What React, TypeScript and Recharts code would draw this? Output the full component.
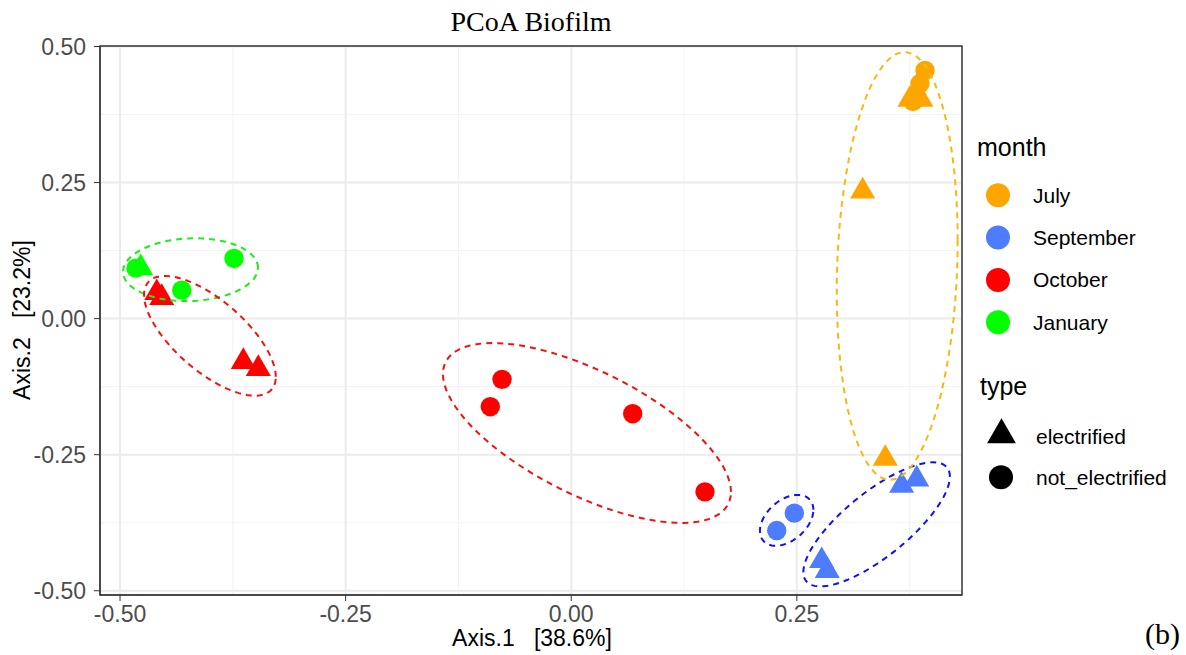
import React from 'react';
import { ScatterChart, Scatter, XAxis, YAxis, CartesianGrid, ReferenceArea } from 'recharts';

// PCoA coordinates (Axis.1, Axis.2)
const july = [
    { x: 0.392, y: 0.456, type: 'not_electrified' },
    { x: 0.3864, y: 0.432, type: 'not_electrified' },
    { x: 0.382, y: 0.41, type: 'not_electrified' },
    { x: 0.3787, y: 0.399, type: 'not_electrified' },
    { x: 0.3753, y: 0.4027, type: 'electrified' },
    { x: 0.3875, y: 0.4027, type: 'electrified' },
    { x: 0.3229, y: 0.234, type: 'electrified' },
    { x: 0.348, y: -0.2572, type: 'electrified' },
];

const september = [
    { x: 0.2277, y: -0.3894, type: 'not_electrified' },
    { x: 0.2472, y: -0.3574, type: 'not_electrified' },
    { x: 0.3661, y: -0.3068, type: 'electrified' },
    { x: 0.3828, y: -0.2952, type: 'electrified' },
    { x: 0.2775, y: -0.4451, type: 'electrified' },
    { x: 0.2837, y: -0.4633, type: 'electrified' },
];

const october = [
    { x: -0.0767, y: -0.1116, type: 'not_electrified' },
    { x: -0.0897, y: -0.1618, type: 'not_electrified' },
    { x: 0.0681, y: -0.1747, type: 'not_electrified' },
    { x: 0.1482, y: -0.3183, type: 'not_electrified' },
    { x: -0.4593, y: 0.0473, type: 'electrified' },
    { x: -0.4538, y: 0.0382, type: 'electrified' },
    { x: -0.3634, y: -0.0793, type: 'electrified' },
    { x: -0.3468, y: -0.0921, type: 'electrified' },
];

const january = [
    { x: -0.4823, y: 0.0927, type: 'not_electrified' },
    { x: -0.4316, y: 0.0523, type: 'not_electrified' },
    { x: -0.3737, y: 0.1105, type: 'not_electrified' },
    { x: -0.4771, y: 0.0932, type: 'electrified' },
];

// confidence ellipses: centre + two half-axis vectors (data units)
const ellipses = [
    { month: 'January', cx: -0.4219, cy: 0.0899, ax: 0.0748, ay: 0.0037, bx: 0, by: 0.0576 },
    { month: 'October', cx: -0.4004, cy: -0.0316, ax: 0.073, ay: -0.0752, bx: 0, by: 0.0804 },
    { month: 'October', cx: 0.0174, cy: -0.2101, ax: 0.1596, ay: -0.1083, bx: 0, by: 0.1248 },
    { month: 'September', cx: 0.2387, cy: -0.3706, ax: 0.0296, ay: 0.0193, bx: 0, by: 0.0426 },
    { month: 'September', cx: 0.3384, cy: -0.378, ax: 0.0812, ay: 0.0877, bx: 0, by: 0.073 },
    { month: 'July', cx: 0.3612, cy: 0.0967, ax: 0.067, ay: 0.0473, bx: 0, by: 0.3901 },
];

const months = ['July', 'September', 'October', 'January'];
const types = ['electrified', 'not_electrified'];
const xTicks = [-0.5, -0.25, 0, 0.25];
const yTicks = [-0.5, -0.25, 0, 0.25, 0.5];
const xMinor = [-0.375, -0.125, 0.125, 0.375];
const yMinor = [-0.375, -0.125, 0.125, 0.375];

const xDomain = [-0.5222, 0.433];
const yDomain = [-0.5078, 0.5009];

const pointColor: Record<string, string> = {
    July: '#FFA500',
    September: '#4D7CFE',
    October: '#FF0000',
    January: '#00FF00',
};
const ellipseColor: Record<string, string> = {
    July: '#F7B80F',
    September: '#1010F0',
    October: '#F51010',
    January: '#18EE18',
};

const SANS = '"Liberation Sans", Arial, sans-serif';
const SERIF = '"Liberation Serif", "Times New Roman", serif';

const ellipsePath = (e: any) => {
    const pts = [];
    for (let i = 0; i <= 90; i++) {
        const t = (i / 90) * 2 * Math.PI;
        pts.push({
            x: e.cx + e.ax * Math.cos(t) + e.bx * Math.sin(t),
            y: e.cy + e.ay * Math.cos(t) + e.by * Math.sin(t),
        });
    }
    return pts;
};

const trianglePoints = (cx: number, cy: number, s: number) => {
    const r = 1.555 * s, xc = 1.347 * s, yc = 0.778 * s;
    return `${cx},${cy - r} ${cx + xc},${cy + yc} ${cx - xc},${cy + yc}`;
};

const pointShape = (color: string) => (props: any) => {
    const { cx, cy, payload } = props;
    if (payload.type === 'electrified') {
        return <polygon points={trianglePoints(cx, cy, 9.3)} fill={color} />;
    }
    return <circle cx={cx} cy={cy} r={9.7} fill={color} />;
};

const seriesByMonth: Record<string, any[]> = { July: july, September: september, October: october, January: january };

const Legend = () => (
    <svg width={1186} height={655} style={{ position: 'absolute', left: 0, top: 0, pointerEvents: 'none', whiteSpace: 'pre' }}>
        <text x={531} y={31} textAnchor="middle" fontFamily={SERIF} fontSize={28} fill="#000">PCoA Biofilm</text>
        <text x={532} y={646} textAnchor="middle" fontFamily={SANS} fontSize={23} fill="#000" xmlSpace="preserve">{'Axis.1   [38.6%]'}</text>
        <text transform="translate(30,320) rotate(-90)" textAnchor="middle" fontFamily={SANS} fontSize={23} fill="#000" xmlSpace="preserve">{'Axis.2   [23.2%]'}</text>
        <text x={1180} y={644} textAnchor="end" fontFamily={SERIF} fontSize={30} fill="#000">(b)</text>

        <text x={977} y={156} fontFamily={SANS} fontSize={25} fill="#000">month</text>
        {months.map((m, i) => (
            <g key={m}>
                <circle cx={998} cy={195.3 + i * 42.3} r={12} fill={pointColor[m]} />
                <text x={1033} y={195.3 + i * 42.3} dy="0.36em" fontFamily={SANS} fontSize={21} fill="#000">{m}</text>
            </g>
        ))}

        <text x={980} y={395} fontFamily={SANS} fontSize={25} fill="#000">type</text>
        {types.map((t, i) => (
            <g key={t}>
                {t === 'electrified'
                    ? <polygon points={trianglePoints(1001.5, 435, 10.7)} fill="#000" />
                    : <circle cx={1001} cy={477.3} r={12} fill="#000" />}
                <text x={1036} y={436 + i * 41.3} dy="0.36em" fontFamily={SANS} fontSize={21} fill="#000">{t}</text>
            </g>
        ))}
    </svg>
);

export default function App() {
    return (
        <div style={{ position: 'absolute', left: 0, top: 0, width: 1186, height: 655, background: '#fff' }}>
            <ScatterChart width={1186} height={655} margin={{ top: 46, right: 224, bottom: 0, left: 0 }}>
                <CartesianGrid horizontalValues={yMinor} verticalValues={xMinor} stroke="#F2F2F2" strokeWidth={1} />
                <CartesianGrid horizontalValues={yTicks} verticalValues={xTicks} stroke="#EBEBEB" strokeWidth={2} />
                <XAxis
                    type="number"
                    dataKey="x"
                    domain={xDomain}
                    allowDataOverflow
                    ticks={xTicks}
                    tickFormatter={(v) => v.toFixed(2)}
                    height={60}
                    tickSize={6}
                    tickMargin={5}
                    stroke="#333333"
                    tick={{ fill: '#4D4D4D', fontSize: 23, fontFamily: SANS }}
                />
                <YAxis
                    type="number"
                    dataKey="y"
                    domain={yDomain}
                    allowDataOverflow
                    ticks={yTicks}
                    tickFormatter={(v) => v.toFixed(2)}
                    width={100}
                    tickSize={6}
                    tickMargin={8}
                    stroke="#333333"
                    tick={{ fill: '#4D4D4D', fontSize: 23, fontFamily: SANS }}
                />
                <ReferenceArea x1={xDomain[0]} x2={xDomain[1]} y1={yDomain[0]} y2={yDomain[1]} fill="none" stroke="#333333" strokeWidth={1.5} fillOpacity={0} />
                {months.map((m) => (
                    <Scatter
                        key={m}
                        name={m}
                        data={seriesByMonth[m]}
                        shape={pointShape(pointColor[m])}
                        isAnimationActive={false}
                    />
                ))}
                {ellipses.map((e, i) => (
                    <Scatter
                        key={`ell-${i}`}
                        data={ellipsePath(e)}
                        line={{ stroke: ellipseColor[e.month], strokeWidth: 2, strokeDasharray: '6 5' }}
                        shape={() => <g />}
                        isAnimationActive={false}
                    />
                ))}
            </ScatterChart>
            <Legend />
        </div>
    );
}
